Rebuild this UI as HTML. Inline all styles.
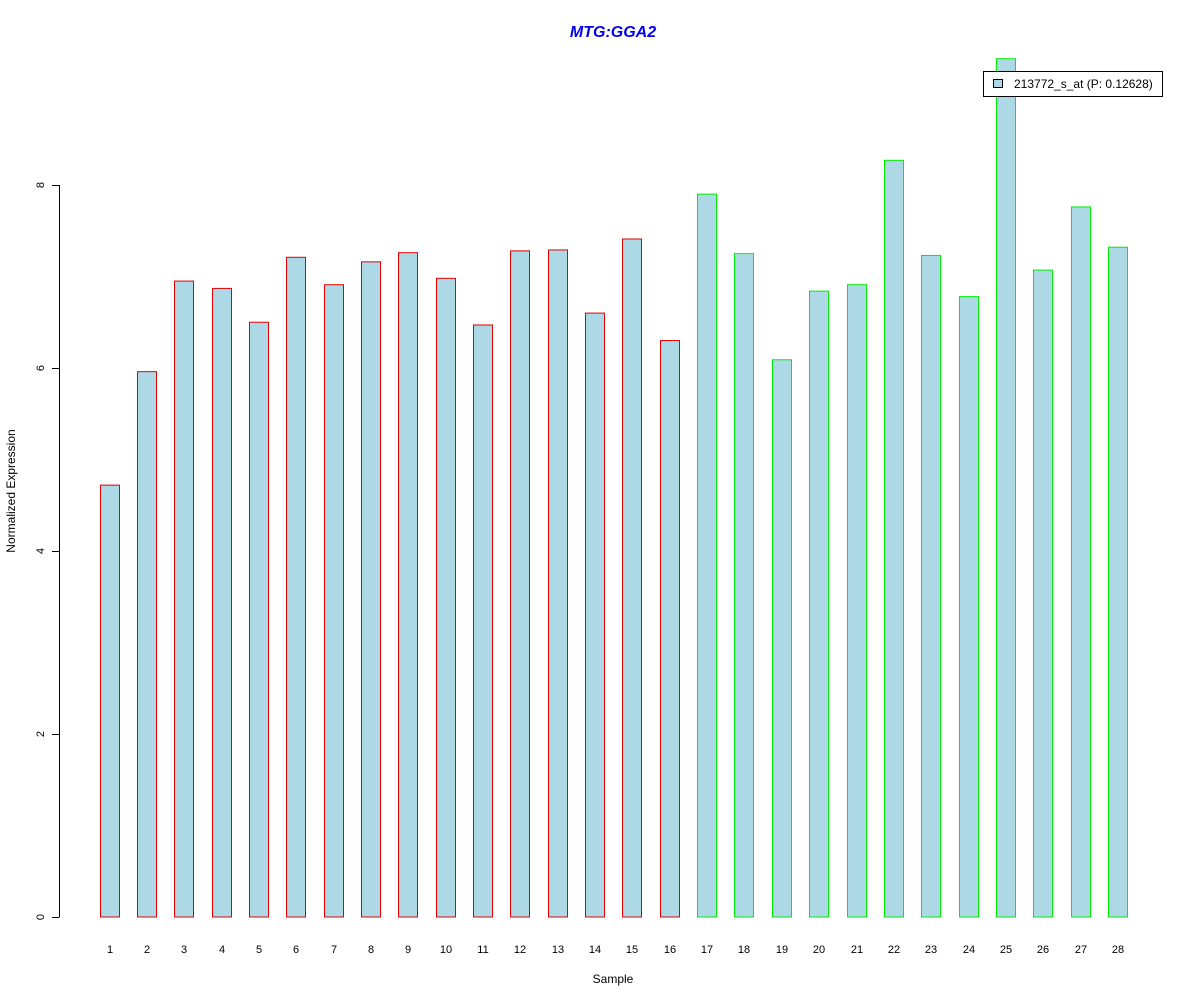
<!DOCTYPE html>
<html><head><meta charset="utf-8"><style>
body{margin:0;background:#fff}
svg text{font-family:"Liberation Sans",Arial,sans-serif}
</style></head><body>
<svg id="chart" width="1200" height="1000" xmlns="http://www.w3.org/2000/svg">
<rect width="1200" height="1000" fill="#fff"/>
<text x="613" y="37" text-anchor="middle" font-size="16" font-weight="bold" font-style="italic" fill="#0000ee">MTG:GGA2</text>
<text transform="translate(15,491) rotate(-90)" text-anchor="middle" font-size="12">Normalized Expression</text>
<text x="613" y="983" text-anchor="middle" font-size="12">Sample</text>
<g id="yaxis"></g>
<g id="bars"></g>
<g id="xlabels"></g>
<g>
<rect x="983.5" y="71.5" width="179" height="25" fill="#fff" stroke="#000"/>
<rect x="993.5" y="79.5" width="9" height="8" fill="#add8e6" stroke="#000"/>
<text x="1014" y="88" font-size="12">213772_s_at (P: 0.12628)</text>
</g>
</svg>
<script>
const categories = ["1","2","3","4","5","6","7","8","9","10","11","12","13","14","15","16","17","18","19","20","21","22","23","24","25","26","27","28"];
const values = [4.72,5.96,6.95,6.87,6.50,7.21,6.91,7.16,7.26,6.98,6.47,7.28,7.29,6.60,7.41,6.30,7.90,7.25,6.09,6.84,6.91,8.27,7.23,6.78,9.38,7.07,7.76,7.32];
const groups = ["a","a","a","a","a","a","a","a","a","a","a","a","a","a","a","a","b","b","b","b","b","b","b","b","b","b","b","b"];
const yTicks = [0,2,4,6,8];
const NS = "http://www.w3.org/2000/svg";
const y = v => 917 - v * 91.5;
const x = i => 109.5 + i * 37.35;
const ya = document.getElementById('yaxis');
const ax = document.createElementNS(NS,'line');


ax.setAttribute('x1',59.5);ax.setAttribute('x2',59.5);
ax.setAttribute('y1',y(yTicks[0]));ax.setAttribute('y2',y(yTicks[yTicks.length-1]));
ax.setAttribute('stroke','#000');ya.appendChild(ax);
yTicks.forEach(t=>{
  const l=document.createElementNS(NS,'line');
  
  
  l.setAttribute('x1',52);l.setAttribute('x2',59.5);
  l.setAttribute('y1',Math.round(y(t))+0.5);l.setAttribute('y2',Math.round(y(t))+0.5);
  l.setAttribute('stroke','#000');ya.appendChild(l);
  const tx=document.createElementNS(NS,'text');
  
  
  tx.setAttribute('transform','translate(44,'+y(t)+') rotate(-90)');
  tx.setAttribute('text-anchor','middle');tx.setAttribute('font-size','11');
  tx.textContent=t;ya.appendChild(tx);
});
const bg=document.getElementById('bars'), xl=document.getElementById('xlabels');
values.forEach((v,i)=>{
  const r=document.createElementNS(NS,'rect');
  
  
  const cx=Math.round(x(i));
  r.setAttribute('x',cx-9.5);r.setAttribute('width',19);
  r.setAttribute('y',y(v));r.setAttribute('height',y(0)-y(v));
  r.setAttribute('fill','#add8e6');
  r.setAttribute('stroke',groups[i]==='a'?'#e00000':'#00ee00');
  bg.appendChild(r);
  const t=document.createElementNS(NS,'text');
  
  
  t.setAttribute('x',cx);t.setAttribute('y',953);
  t.setAttribute('text-anchor','middle');t.setAttribute('font-size','11');
  t.textContent=categories[i];xl.appendChild(t);
});
</script>
</body></html>
